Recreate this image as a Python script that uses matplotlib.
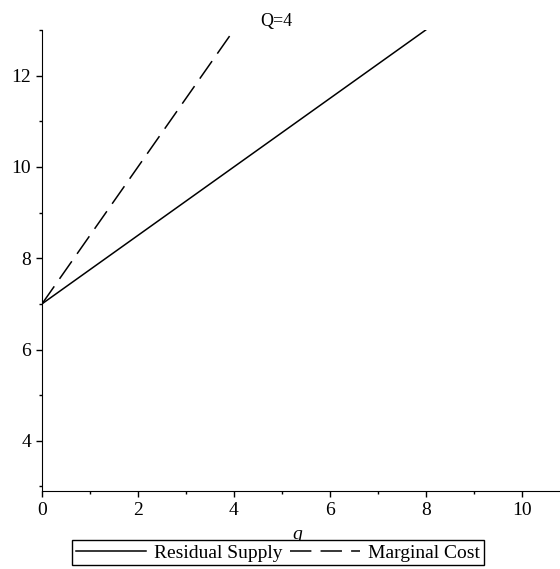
import matplotlib
matplotlib.use("Agg")
import matplotlib.pyplot as plt

# donnees (Q=4)
q_rs = [0, 8]
p_rs = [7, 13]
q_mc = [0, 4]
p_mc = [7, 13]

plt.rcParams['font.family'] = ['Liberation Serif', 'DejaVu Serif']

fig = plt.figure(figsize=(5.6, 5.69), dpi=100)
ax = fig.add_axes([42/560, 1 - 491/569, 1 - 42/560, (491 - 30)/569])

ax.plot(q_rs, p_rs, color='black', lw=1.1, label='Residual Supply')
ax.plot(q_mc, p_mc, color='black', lw=1.1, dashes=(14, 6), label='Marginal Cost')

ax.set_xlim(0, 10.8)
ax.set_ylim(2.9, 13)
ax.spines['top'].set_visible(False)
ax.spines['right'].set_visible(False)
ax.set_xticks([0, 2, 4, 6, 8, 10])
ax.set_xticks([1, 3, 5, 7, 9], minor=True)
ax.set_yticks([4, 6, 8, 10, 12])
ax.set_yticks([3, 5, 7, 9, 11, 13], minor=True)
ax.tick_params(which='major', length=4, width=1, labelsize=14, direction='out')
ax.tick_params(axis='x', which='major', pad=4)
ax.tick_params(axis='y', which='major', pad=4)
ax.tick_params(which='minor', length=2.5, width=1, direction='out')

ax.set_xlabel('q', fontsize=14, style='italic', labelpad=2)
ax.xaxis.set_label_coords(0.492, -0.075)
ax.set_title('Q=4', fontsize=13, pad=2, x=0.452)

fig.legend(loc='upper left', bbox_to_anchor=(72/560, 1 - 540/569), ncol=2,
           fancybox=False, edgecolor='black', framealpha=1, fontsize=14,
           handlelength=3.6, columnspacing=0.4, handletextpad=0.4,
           borderpad=0.2, borderaxespad=0)

fig.savefig('out.png', dpi=100)
